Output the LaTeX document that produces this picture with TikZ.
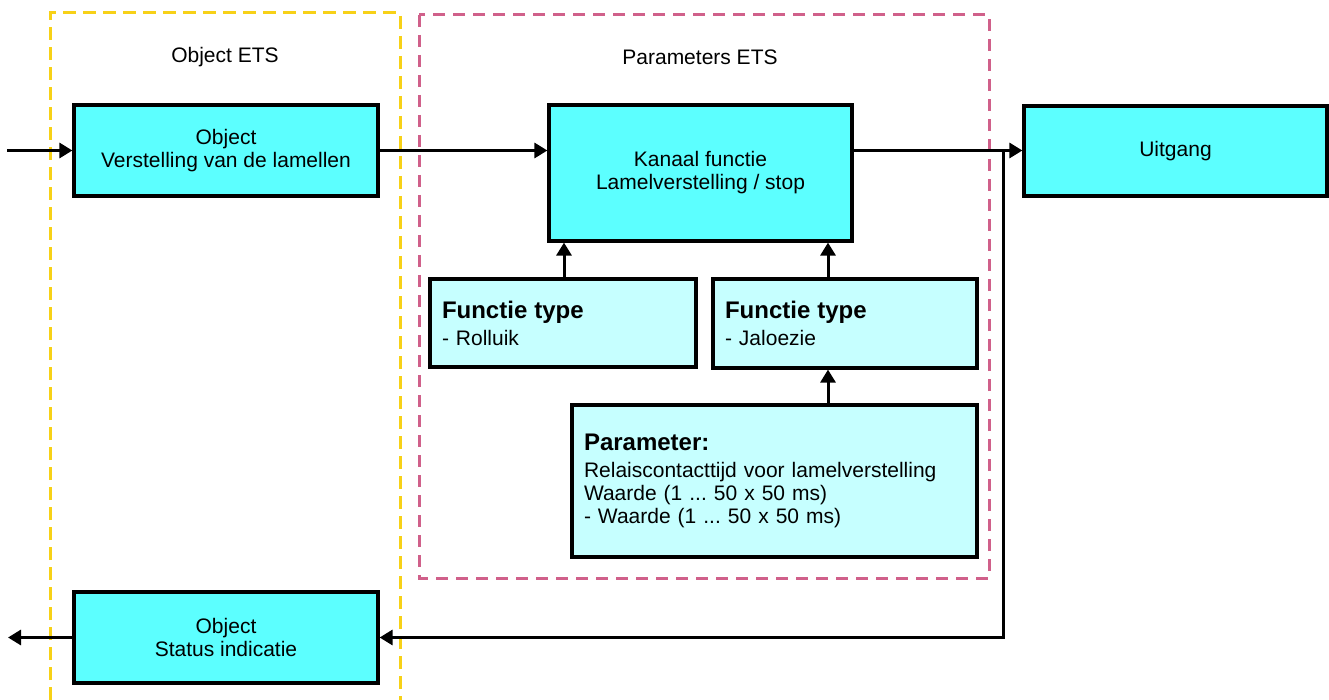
\documentclass[tikz,border=0pt]{standalone}
\usepackage{fontspec}
\setmainfont{Liberation Sans}
\usetikzlibrary{arrows.meta,calc}
\definecolor{cyanA}{HTML}{5CFFFF}
\definecolor{cyanB}{HTML}{C6FFFF}
\definecolor{ylw}{HTML}{F7D117}
\definecolor{pnk}{HTML}{D0608A}
\frenchspacing
\tikzset{
  mainbox/.style={draw=black, line width=3.2pt, fill=cyanA, align=center,
    font=\fontsize{21}{23}\selectfont, inner sep=0pt},
  parbox/.style={draw=black, line width=3.2pt, fill=cyanB, align=left,
    font=\fontsize{21}{23}\selectfont, inner xsep=12pt, inner ysep=0pt},
  arr/.style={line width=3pt, -{Triangle[length=13pt,width=15pt]}},
  frameY/.style={draw=ylw, line width=3pt, dash pattern=on 13pt off 7pt},
  frameP/.style={draw=pnk, line width=3pt, dash pattern=on 12pt off 8pt},
  title/.style={font=\fontsize{21}{23}\selectfont, inner sep=0pt}
}
\newcommand{\hdtext}[1]{{\fontsize{24}{27}\selectfont\bfseries #1}}
\begin{document}
\begin{tikzpicture}[x=1pt,y=-1pt]
\useasboundingbox (0,0) rectangle (1329,700);
% frames
\draw[frameY] (50,700) -- (50,13) -- (400,13) -- (400,700);
\draw[frameP] (419,15) rectangle (989,578);
\node[title] (tObj) at (225,57) {Object ETS};
\node[title] (tPar) at (700,57) {Parameters ETS};
% boxes
\node[mainbox, minimum width=304pt, minimum height=91pt] (obj) at (226,150.5)
  {Object\\Verstelling van de lamellen};
\node[mainbox, minimum width=303pt, minimum height=136pt] (kan) at (700.5,173)
  {Kanaal functie\\Lamelverstelling / stop};
\node[mainbox, minimum width=303pt, minimum height=90pt] (uit) at (1175.5,151)
  {Uitgang};
\node[mainbox, minimum width=304pt, minimum height=91pt] (stat) at (226,637.5)
  {Object\\Status indicatie};
\node[parbox, text width=242pt, minimum width=266pt, minimum height=88pt] (rol) at (563,323)
  {\hdtext{Functie type}\\[4pt]- Rolluik};
\node[parbox, text width=240pt, minimum width=264pt, minimum height=89pt] (jal) at (845,323.5)
  {\hdtext{Functie type}\\[4pt]- Jaloezie};
\node[parbox, text width=381pt, minimum width=405pt, minimum height=152pt] (par) at (774.5,481)
  {\hdtext{Parameter:}\\[4pt]Relaiscontacttijd voor lamelverstelling\\Waarde (1 ... 50 x 50 ms)\\- Waarde (1 ... 50 x 50 ms)};
% helper coordinates
\coordinate (in) at (7,150.5);
\coordinate (out) at (8,637.5);
\coordinate (a1) at (564,0);
\coordinate (a2) at (828,0);
\coordinate (j) at (1003.5,150.5);
% connectors
\draw[arr] (in) -- (obj.west);
\draw[arr] (obj.east) -- (obj.east -| kan.west);
\draw[arr] (obj.east -| kan.east) -- (obj.east -| uit.west);
\draw[arr] (j) |- (stat.east);
\draw[arr] (stat.west) -- (out);
\draw[arr] (rol.north -| a1) -- (kan.south -| a1);
\draw[arr] (jal.north -| a2) -- (kan.south -| a2);
\draw[arr] (par.north -| a2) -- (jal.south -| a2);
\end{tikzpicture}
\end{document}
